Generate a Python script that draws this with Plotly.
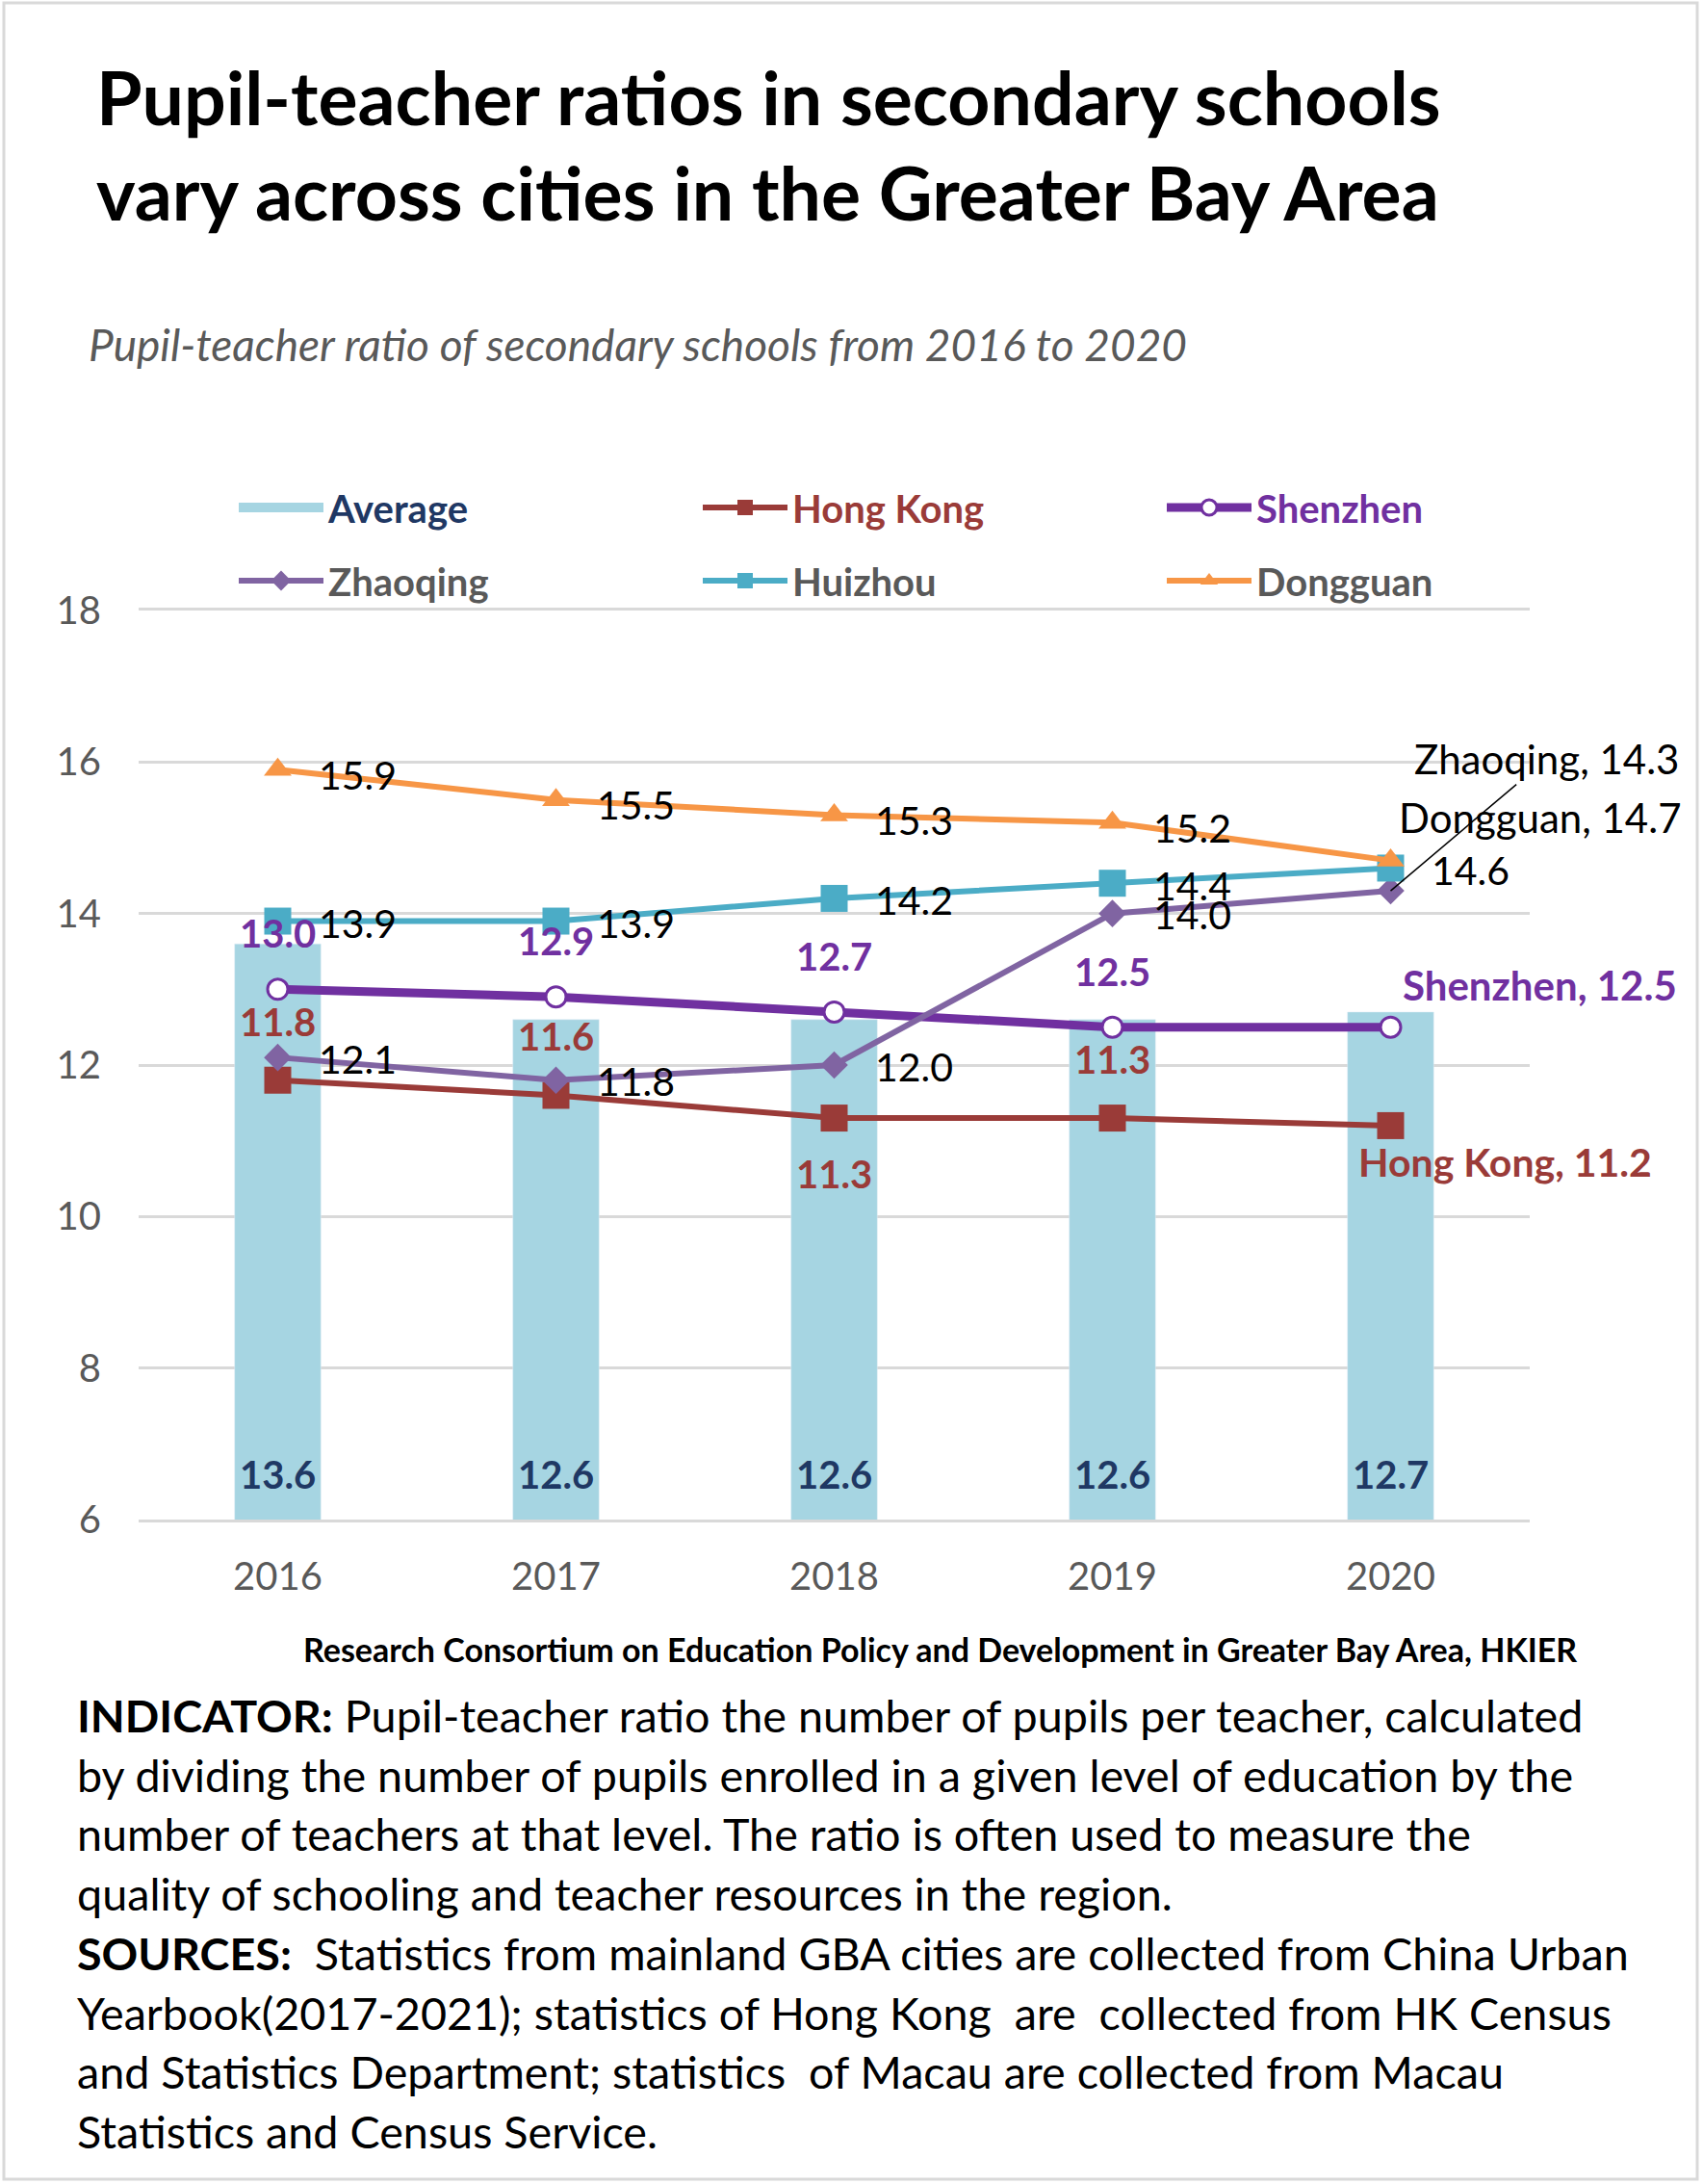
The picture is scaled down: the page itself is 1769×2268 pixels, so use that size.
import plotly.graph_objects as go

# ---------------- data ----------------
years = ["2016", "2017", "2018", "2019", "2020"]
average = [13.6, 12.6, 12.6, 12.6, 12.7]
hong_kong = [11.8, 11.6, 11.3, 11.3, 11.2]
shenzhen = [13.0, 12.9, 12.7, 12.5, 12.5]
zhaoqing = [12.1, 11.8, 12.0, 14.0, 14.3]
huizhou = [13.9, 13.9, 14.2, 14.4, 14.6]
dongguan = [15.9, 15.5, 15.3, 15.2, 14.7]
y_ticks = [6, 8, 10, 12, 14, 16, 18]

title_lines = ["Pupil-teacher ratios in secondary schools",
               "vary across cities in the Greater Bay Area"]
subtitle = "Pupil-teacher ratio of secondary schools from 2016 to 2020"
credit = "Research Consortium on Education Policy and Development in Greater Bay Area, HKIER"
body_lines = [
    "<b>INDICATOR:</b> Pupil-teacher ratio the number of pupils per teacher, calculated",
    "by dividing the number of pupils enrolled in a given level of education by the",
    "number of teachers at that level. The ratio is often used to measure the",
    "quality of schooling and teacher resources in the region.",
    "<b>SOURCES:</b>&nbsp; Statistics from mainland GBA cities are collected from China Urban",
    "Yearbook(2017-2021); statistics of Hong Kong&nbsp; are&nbsp; collected from HK Census",
    "and Statistics Department; statistics&nbsp; of Macau are collected from Macau",
    "Statistics and Census Service.",
]

# ---------------- style ----------------
W, H = 1769, 2268
PL, PR, PT, PB = 144, 1589, 634, 1578
FONT = "Lato"
C_BAR = "#A6D5E2"
C_AVG_TXT = "#1F3864"
C_HK = "#9A3B38"
C_SZ = "#7030A0"
C_ZQ = "#8064A2"
C_HZ = "#4BACC6"
C_DG = "#F79646"
C_GRID = "#D9D9D9"
C_GRAY = "#595959"


def px(x):
    return (x - PL) / (PR - PL)


def py(y):
    return (PB - y) / (PB - PT)


fig = go.Figure()

# bars (average)
fig.add_trace(go.Bar(x=years, y=average, marker_color=C_BAR, width=0.31,
                     showlegend=False, hoverinfo="skip"))

# legend-only entry for the bars
fig.add_trace(go.Scatter(x=[None], y=[None], mode="lines",
                         line=dict(color=C_BAR, width=25),
                         name=f"<b><span style='color:{C_AVG_TXT}'>Average</span></b>",
                         legend="legend"))

fig.add_trace(go.Scatter(x=years, y=hong_kong, mode="lines+markers",
                         line=dict(color=C_HK, width=6),
                         marker=dict(symbol="square", size=28, color=C_HK),
                         name=f"<b><span style='color:{C_HK}'>Hong Kong</span></b>",
                         legend="legend"))
fig.add_trace(go.Scatter(x=years, y=shenzhen, mode="lines+markers",
                         line=dict(color=C_SZ, width=9),
                         marker=dict(symbol="circle", size=21, color="white",
                                     line=dict(color=C_SZ, width=3)),
                         name=f"<b><span style='color:{C_SZ}'>Shenzhen</span></b>",
                         legend="legend"))
fig.add_trace(go.Scatter(x=years, y=zhaoqing, mode="lines+markers",
                         line=dict(color=C_ZQ, width=6),
                         marker=dict(symbol="diamond", size=22, color=C_ZQ),
                         name="<b>Zhaoqing</b>", legend="legend2"))
fig.add_trace(go.Scatter(x=years, y=huizhou, mode="lines+markers",
                         line=dict(color=C_HZ, width=6),
                         marker=dict(symbol="square", size=28, color=C_HZ),
                         name="<b>Huizhou</b>", legend="legend2"))
fig.add_trace(go.Scatter(x=years, y=dongguan, mode="lines+markers",
                         line=dict(color=C_DG, width=6),
                         marker=dict(symbol="triangle-up", size=25, color=C_DG),
                         name="<b>Dongguan</b>", legend="legend2"))

annotations = []


def lab(i, y, text, color, bold, size, dx=0, dy=0, xanchor="center"):
    t = f"<b>{text}</b>" if bold else text
    annotations.append(dict(x=i, y=y, xref="x", yref="y", text=t, showarrow=False,
                            xanchor=xanchor, yanchor="middle", xshift=dx, yshift=dy,
                            font=dict(family=FONT, size=size, color=color)))


n = len(years)
# average labels at the bar base
for i, v in enumerate(average):
    lab(i, y_ticks[0], f"{v:.1f}", C_AVG_TXT, True, 40, dy=47)

# Hong Kong labels
hk_dy = [61, 61, -58, 61]
for i in range(n - 1):
    lab(i, hong_kong[i], f"{hong_kong[i]:.1f}", C_HK, True, 40, dy=hk_dy[i])
lab(n - 1, hong_kong[-1], f"Hong Kong, {hong_kong[-1]:.1f}", C_HK, True, 41, dx=119, dy=-38)

# Shenzhen labels
for i in range(n - 1):
    lab(i, shenzhen[i], f"{shenzhen[i]:.1f}", C_SZ, True, 40, dy=58)
lab(n - 1, shenzhen[-1], f"Shenzhen, {shenzhen[-1]:.1f}", C_SZ, True, 42, dx=155, dy=44)

# Zhaoqing labels
for i in range(n - 1):
    lab(i, zhaoqing[i], f"{zhaoqing[i]:.1f}", "black", False, 41, dx=40, dy=-1, xanchor="left")
annotations.append(dict(x=n - 1, y=zhaoqing[-1], xref="x", yref="y",
                        text=f"Zhaoqing, {zhaoqing[-1]:.1f}", showarrow=True,
                        arrowhead=0, arrowwidth=1.5, arrowcolor="black",
                        ax=162, ay=-137, xanchor="center", yanchor="middle",
                        font=dict(family=FONT, size=42, color="black")))

# Huizhou labels
for i in range(n):
    lab(i, huizhou[i], f"{huizhou[i]:.1f}", "black", False, 41, dx=40, dy=-2, xanchor="left")

# Dongguan labels
for i in range(n - 1):
    lab(i, dongguan[i], f"{dongguan[i]:.1f}", "black", False, 41, dx=40, dy=-5, xanchor="left")
lab(n - 1, dongguan[-1], f"Dongguan, {dongguan[-1]:.1f}", "black", False, 42, dx=155, dy=45)


# text blocks
def ptext(x, y, text, size, color="black", xanchor="left", italic=False):
    annotations.append(dict(x=px(x), y=py(y), xref="paper", yref="paper", text=text,
                            showarrow=False, xanchor=xanchor, yanchor="middle",
                            font=dict(family=FONT, size=size, color=color,
                                      style="italic" if italic else "normal")))


ptext(98, 100, f"<b>{title_lines[0]}</b>", 77)
ptext(98, 199, f"<b>{title_lines[1]}</b>", 77)
ptext(90, 357, subtitle, 46, C_GRAY, italic=True)
ptext(1640, 1712, f"<b>{credit}</b>", 34, xanchor="right")
for i, line in enumerate(body_lines):
    ptext(78, 1781 + i * 61.7, line, 46.7)

fig.update_layout(
    width=W, height=H,
    margin=dict(l=PL, r=W - PR, t=PT, b=H - PB, pad=0),
    paper_bgcolor="white", plot_bgcolor="white",
    font=dict(family=FONT, size=38, color=C_GRAY),
    barmode="overlay",
    annotations=annotations,
    xaxis=dict(type="category", range=[-0.5, 4.5], showgrid=False, showline=True,
               mirror=True, linecolor=C_GRID, linewidth=3, ticks="", ticklabelstandoff=22,
               tickfont=dict(family=FONT, size=40, color=C_GRAY)),
    yaxis=dict(range=[6, 18], tickvals=y_ticks, showgrid=True, gridcolor=C_GRID,
               gridwidth=3, zeroline=False, showline=False, ticks="",
               ticklabelstandoff=38,
               tickfont=dict(family=FONT, size=40, color=C_GRAY)),
    legend=dict(orientation="h", x=px(243), y=py(527), xanchor="left", yanchor="middle",
                entrywidth=379, entrywidthmode="pixels", itemwidth=88,
                bgcolor="rgba(0,0,0,0)", font=dict(family=FONT, size=40, color=C_GRAY),
                traceorder="normal"),
    legend2=dict(orientation="h", x=px(243), y=py(603), xanchor="left", yanchor="middle",
                 entrywidth=379, entrywidthmode="pixels", itemwidth=88,
                 bgcolor="rgba(0,0,0,0)", font=dict(family=FONT, size=40, color=C_GRAY),
                 traceorder="normal"),
    shapes=[dict(type="rect", xref="paper", yref="paper",
                 x0=px(4), x1=px(1763), y0=py(3), y1=py(2263),
                 line=dict(color=C_GRID, width=3), fillcolor="rgba(0,0,0,0)", layer="below")],
)

fig.write_html("out.html", config={"displayModeBar": False},
               post_script="document.body.style.margin='0';")
